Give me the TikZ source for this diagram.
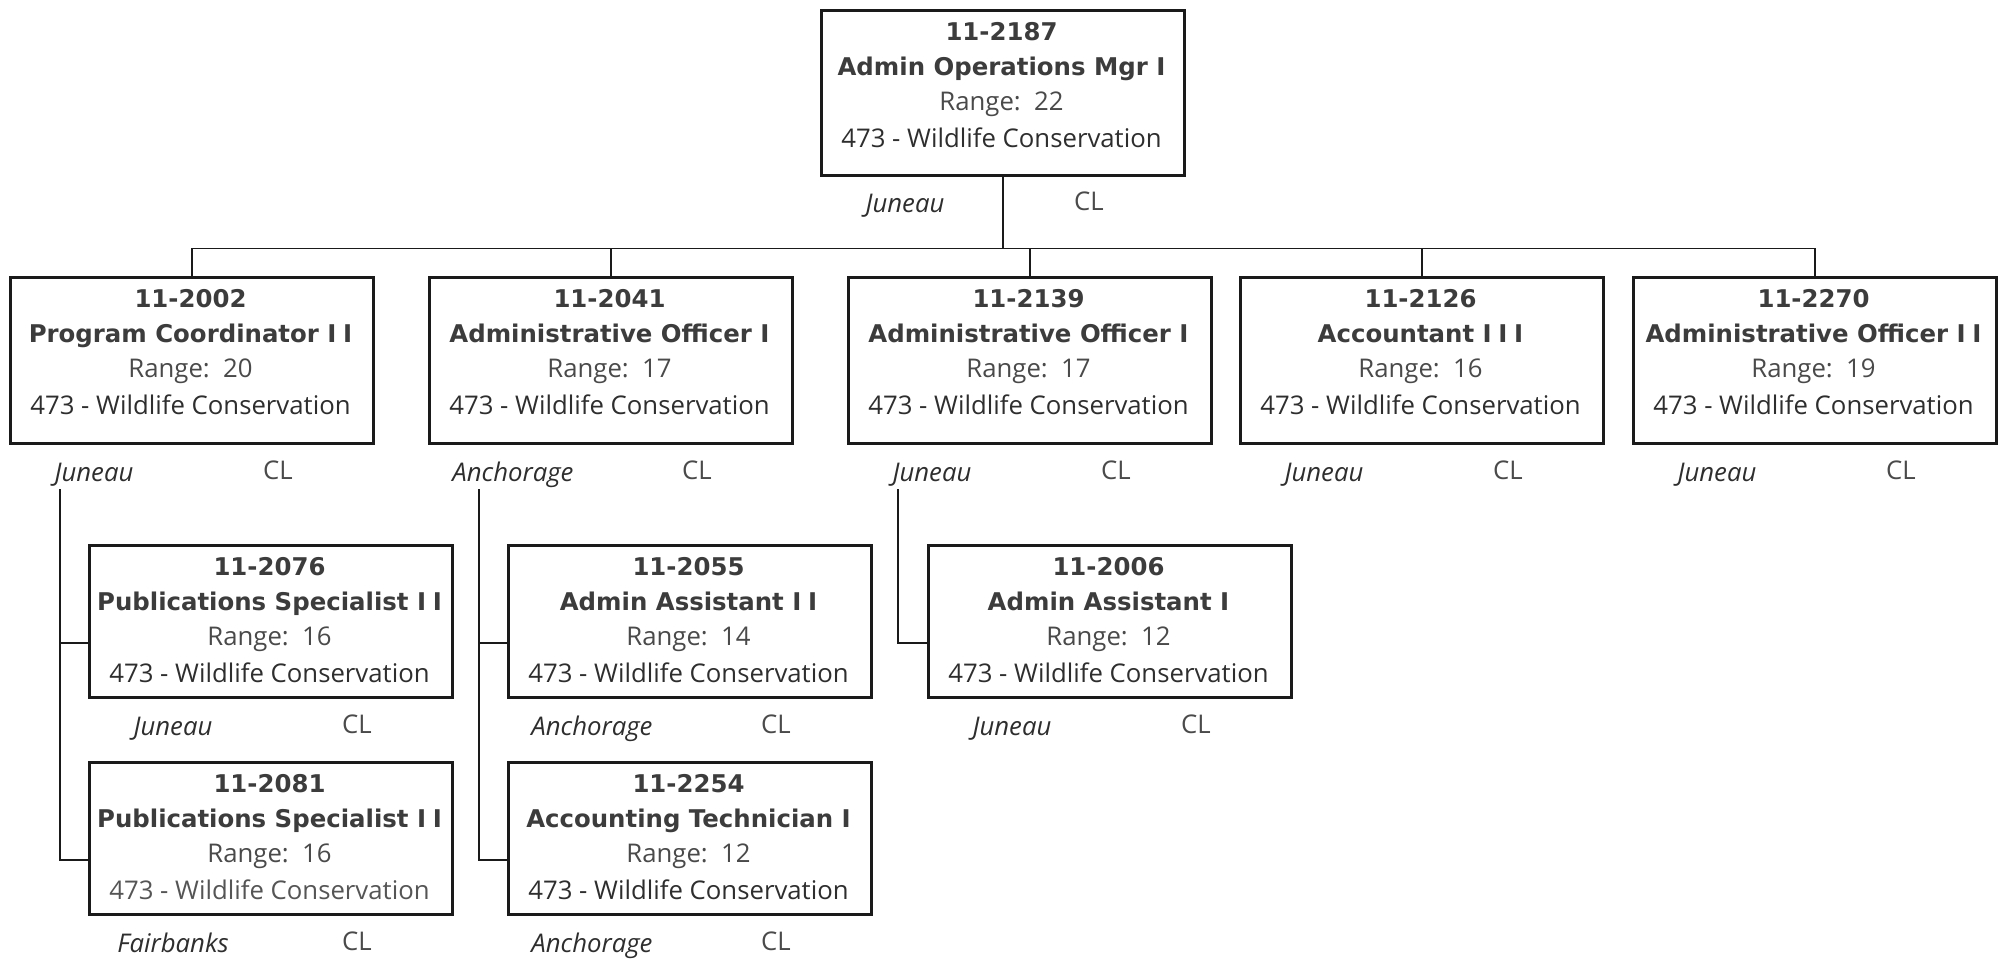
\documentclass[tikz,border=0pt]{standalone}
\usepackage{fontspec}
\setmainfont{Open Sans}
\newfontfamily\vfont{DejaVu Sans}
\usetikzlibrary{calc}
\definecolor{boldtxt}{HTML}{3C3C3C}
\definecolor{regtxt}{HTML}{2E2E2E}
\definecolor{rngtxt}{HTML}{4A4A4A}
\definecolor{lighttxt}{HTML}{555555}
\definecolor{boxline}{HTML}{1A1A1A}
\newcommand\romtwo{I\kern5pt I}
\newcommand\romthree{I\kern5pt I\kern5pt I}
\tikzset{
  jbox/.style={draw=boxline, line width=2.2pt, minimum width=272.25pt, inner sep=0pt, rectangle},
  numtxt/.style={font=\vfont\bfseries\fontsize{18.3}{20}\selectfont, text=boldtxt, anchor=base, inner sep=0pt},
  titletxt/.style={font=\vfont\bfseries\fontsize{18.3}{20}\selectfont, text=boldtxt, anchor=base, inner sep=0pt},
  rangetxt/.style={font=\fontsize{19.3}{22}\selectfont, text=rngtxt, anchor=base, inner sep=0pt},
  unittxt/.style={font=\fontsize{19.3}{22}\selectfont, text=regtxt, anchor=base, inner sep=0pt},
  paleunit/.style={text=lighttxt},
  loctxt/.style={font=\itshape\fontsize{19.3}{22}\selectfont, text=regtxt, anchor=base, inner sep=0pt},
  cltxt/.style={font=\fontsize{19.3}{22}\selectfont, text=rngtxt, anchor=base, inner sep=0pt},
  conn/.style={draw=boxline, line width=1.1pt},
}
% #1 name, #2 left, #3 top, #4 height px, #5 number, #6 title, #7 range, #8 location, #9 style of last line
\newcommand\jobbox[9]{%
  \node[jbox, minimum height=#4*0.75pt, anchor=north west] (#1) at (#2,#3) {};
  \node[numtxt] (#1-num) at ({#2+181.5},{#3+31.3}) {#5};
  \node[titletxt] (#1-ttl) at ({#2+181.5},{#3+66.3}) {#6};
  \node[rangetxt] (#1-rng) at ({#2+181.5},{#3+101.2}) {Range:~~#7};
  \node[unittxt,#9] (#1-unit) at ({#2+181.5},{#3+138.7}) {473 - Wildlife Conservation};
  \node[loctxt] (#1-loc) at ({#2+85},{#3+#4+39}) {#8};
  \node[cltxt] (#1-cl) at ({#2+269},{#3+#4+37}) {CL};
}
\begin{document}
\begin{tikzpicture}[x=0.75pt,y=-0.75pt]
\useasboundingbox (0,0) rectangle (1999,959);
% top
\jobbox{T}{820}{9}{165}{11-2187}{Admin Operations Mgr I}{22}{Juneau}{}
% level 2
\jobbox{B1}{9}{276}{166}{11-2002}{Program Coordinator \romtwo}{20}{Juneau}{}
\jobbox{B2}{428}{276}{166}{11-2041}{Administrative Officer I}{17}{Anchorage}{}
\jobbox{B3}{847}{276}{166}{11-2139}{Administrative Officer I}{17}{Juneau}{}
\jobbox{B4}{1239}{276}{166}{11-2126}{Accountant \romthree}{16}{Juneau}{}
\jobbox{B5}{1632}{276}{166}{11-2270}{Administrative Officer \romtwo}{19}{Juneau}{}
% level 3
\jobbox{C1}{88}{544}{152}{11-2076}{Publications Specialist \romtwo}{16}{Juneau}{}
\jobbox{C2}{88}{761}{152}{11-2081}{Publications Specialist \romtwo}{16}{Fairbanks}{paleunit}
\jobbox{C3}{507}{544}{152}{11-2055}{Admin Assistant \romtwo}{14}{Anchorage}{}
\jobbox{C4}{507}{761}{152}{11-2254}{Accounting Technician I}{12}{Anchorage}{}
\jobbox{C5}{927}{544}{152}{11-2006}{Admin Assistant I}{12}{Juneau}{}
% connectors top -> level 2
\coordinate (bus) at (1001.5,248.5);
\draw[conn] (T.south) -- (T.south |- bus);
\draw[conn] (B1.north) |- (bus) -| (B5.north);
\foreach \b in {B2,B3,B4} \draw[conn] (\b.north) -- (\b.north |- bus);
% connectors level 2 -> level 3
\coordinate (B1s) at (60,489);
\coordinate (B2s) at (479,489);
\coordinate (B3s) at (898,489);
\draw[conn] (B1s) |- ([yshift=-74.25pt]C1.north west);
\draw[conn] (B1s) |- ([yshift=-74.25pt]C2.north west);
\draw[conn] (B2s) |- ([yshift=-74.25pt]C3.north west);
\draw[conn] (B2s) |- ([yshift=-74.25pt]C4.north west);
\draw[conn] (B3s) |- ([yshift=-74.25pt]C5.north west);
\end{tikzpicture}
\end{document}
